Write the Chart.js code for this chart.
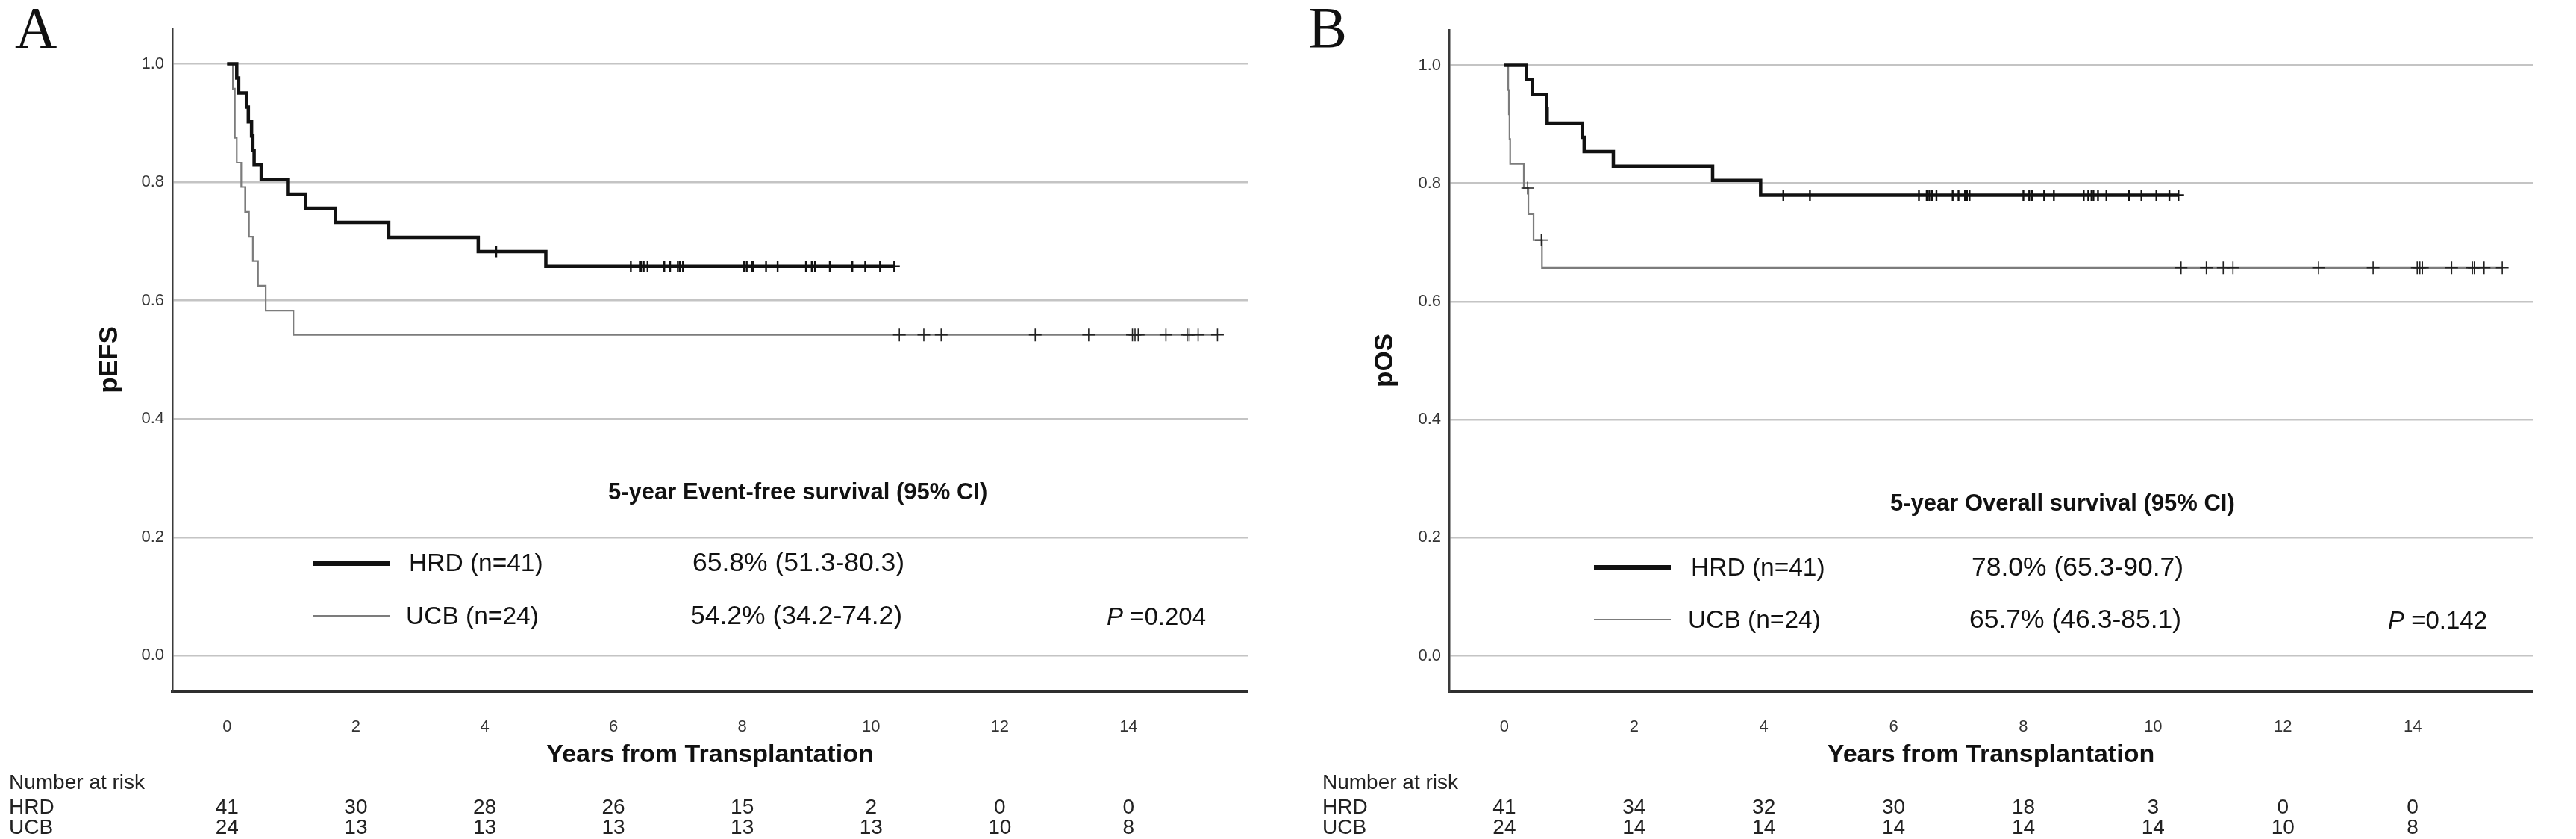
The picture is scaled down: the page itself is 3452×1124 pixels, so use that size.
<!DOCTYPE html>
<html>
<head>
<meta charset="utf-8">
<script src="https://cdn.jsdelivr.net/npm/chart.js@4.4.1/dist/chart.umd.min.js"></script>
<style>
  body { margin: 0; background: #fff; }
  #page { position: relative; width: 3452px; height: 1124px; overflow: hidden;
          font-family: "Liberation Sans", Arial, sans-serif; color: #111; }
  .panel { position: absolute; top: 0; width: 1726px; height: 1124px; }
  .panel canvas { position: absolute; left: 0; top: 0; }
  .txt { position: absolute; white-space: nowrap; line-height: 1; transform: translateY(-50%); }
  .mid { transform: translate(-50%, -50%); }
  .letter { position: absolute; font-family: "Liberation Serif", "Times New Roman", serif;
            font-size: 78px; line-height: 1; }
  .key { position: absolute; }
</style>
</head>
<body>
<div id="page">
  <div class="panel" id="panelA" style="left:0"></div>
  <div class="panel" id="panelB" style="left:1726px"></div>
</div>
<script>
// axis ticks
const timeTicks = [0, 2, 4, 6, 8, 10, 12, 14];
const survTicks = [0, 0.2, 0.4, 0.6, 0.8, 1.0];

// A: event-free survival (steps)
const efsHrdTimes = [0, 0.15, 0.18, 0.30, 0.33, 0.38, 0.40, 0.42, 0.53, 0.94, 1.22, 1.68, 2.51, 3.90, 4.95, 10.36];
const efsHrdSurv  = [1.0, 0.976, 0.951, 0.927, 0.902, 0.878, 0.854, 0.829, 0.805, 0.780, 0.756, 0.732, 0.707, 0.683, 0.658, 0.658];
const efsHrdCensor = [4.18, 6.27, 6.41, 6.43, 6.47, 6.53, 6.79, 6.88, 7.00, 7.03, 7.08, 8.03, 8.07, 8.15, 8.17,
                      8.37, 8.55, 8.99, 9.08, 9.13, 9.36, 9.71, 9.91, 10.14, 10.36];
const efsUcbTimes = [0, 0.09, 0.12, 0.15, 0.22, 0.28, 0.34, 0.40, 0.48, 0.60, 1.03, 15.38];
const efsUcbSurv  = [1.0, 0.958, 0.875, 0.833, 0.792, 0.750, 0.708, 0.667, 0.625, 0.583, 0.542, 0.542];
const efsUcbCensor = [10.44, 10.82, 11.09, 12.55, 13.38, 14.06, 14.10, 14.15, 14.58, 14.91, 14.94, 15.08, 15.38];
const efsRiskHrd = [41, 30, 28, 26, 15, 2, 0, 0];
const efsRiskUcb = [24, 13, 13, 13, 13, 13, 10, 8];

// B: overall survival
const osHrdTimes = [0, 0.34, 0.43, 0.65, 0.66, 1.20, 1.23, 1.68, 3.21, 3.95, 10.39];
const osHrdSurv  = [1.0, 0.976, 0.951, 0.927, 0.902, 0.878, 0.854, 0.829, 0.805, 0.780, 0.780];
const osHrdCensor = [4.30, 4.71, 6.39, 6.51, 6.55, 6.59, 6.66, 6.91, 7.00, 7.10, 7.13, 7.17, 8.00, 8.09, 8.13,
                     8.32, 8.47, 8.93, 9.00, 9.05, 9.08, 9.15, 9.28, 9.63, 9.82, 10.05, 10.25, 10.39];
const osUcbTimes = [0, 0.06, 0.07, 0.08, 0.09, 0.30, 0.37, 0.45, 0.58, 15.38];
const osUcbSurv  = [1.0, 0.958, 0.917, 0.875, 0.833, 0.792, 0.748, 0.704, 0.657, 0.657];
const osUcbCensor = [0.36, 0.57, 10.43, 10.82, 11.08, 11.23, 12.55, 13.39, 14.07, 14.11, 14.15, 14.60,
                     14.92, 14.95, 15.10, 15.38];
const osRiskHrd = [41, 34, 32, 30, 18, 3, 0, 0];
const osRiskUcb = [24, 14, 14, 14, 14, 14, 10, 8];

const groups = ['HRD', 'UCB'];

function steps(times, surv) {
  return times.map((t, i) => ({ x: t, y: surv[i] }));
}
// censor marks sit on the curve
function marks(censor, times, surv) {
  return censor.map(t => {
    let s = surv[0];
    times.forEach((tt, i) => { if (tt <= t) s = surv[i]; });
    return { x: t, y: s };
  });
}

function add(parent, cls, html, css) {
  const d = document.createElement('div');
  d.className = cls;
  d.innerHTML = html;
  Object.assign(d.style, css);
  parent.appendChild(d);
  return d;
}

function makePanel(p) {
  const el = document.getElementById(p.id);
  const canvas = document.createElement('canvas');
  canvas.width = 1726; canvas.height = 1124;
  canvas.style.width = '1726px'; canvas.style.height = '1124px';
  el.appendChild(canvas);

  const font = 'Liberation Sans';
  const chart = new Chart(canvas, {
    type: 'scatter',
    data: {
      datasets: [
        { data: steps(p.hrd[0], p.hrd[1]), showLine: true, stepped: true, borderColor: '#111',
          borderWidth: 4.5, borderJoinStyle: 'miter', pointRadius: 0, order: 3 },
        { data: steps(p.ucb[0], p.ucb[1]), showLine: true, stepped: true, borderColor: '#7c7c7c',
          borderWidth: 2.2, borderJoinStyle: 'miter', pointRadius: 0, order: 4 },
        { data: marks(p.hrd[2], p.hrd[0], p.hrd[1]), pointStyle: 'cross', pointRadius: 7.5,
          pointBorderWidth: 2.4, pointBorderColor: '#111', order: 1 },
        { data: marks(p.ucb[2], p.ucb[0], p.ucb[1]), pointStyle: 'cross', pointRadius: 8.5,
          pointBorderWidth: 1.6, pointBorderColor: '#222', order: 2 }
      ]
    },
    options: {
      responsive: false,
      animation: false,
      events: [],
      layout: { padding: { left: 0, top: p.area.top, right: 1726 - p.area.right, bottom: 0 } },
      plugins: { legend: { display: false }, tooltip: { enabled: false } },
      scales: {
        x: {
          type: 'linear', min: -0.85, max: 15.85,
          afterBuildTicks: s => { s.ticks = timeTicks.map(v => ({ value: v })); },
          afterFit: s => { s.height = 1124 - p.area.bottom; },
          grid: { display: false, drawTicks: false },
          border: { display: true, color: '#2e2e2e', width: 4 },
          ticks: { padding: 35, color: '#333', font: { family: font, size: 22 },
                   callback: v => String(v) },
          title: { display: true, text: 'Years from Transplantation', color: '#111',
                   font: { family: font, size: 34, weight: 'bold' },
                   padding: { top: 0, bottom: 92 } }
        },
        y: {
          type: 'linear', min: -0.06, max: 1.06,
          afterBuildTicks: s => { s.ticks = survTicks.map(v => ({ value: v })); },
          afterFit: s => { s.width = p.area.left; },
          grid: { color: '#c4c4c4', lineWidth: 2.5, drawTicks: false },
          border: { display: true, color: '#3a3a3a', width: 2.5 },
          ticks: { padding: 11, color: '#333', font: { family: font, size: 22 },
                   callback: v => v.toFixed(1) },
          title: { display: true, text: p.yTitle, color: '#111',
                   font: { family: font, size: 35, weight: 'bold' },
                   padding: { top: p.yTitleX - 21, bottom: 0 } }
        }
      }
    }
  });

  // panel letter
  add(el, 'letter', p.letter, { left: p.letterX + 'px', top: '-2px' });

  // annotation block inside the plot
  const a = p.note;
  add(el, 'txt', a.title, { left: a.titleX + 'px', top: a.titleY + 'px', fontSize: '31px', fontWeight: 'bold' });
  add(el, 'key', '', { left: a.keyX + 'px', top: (a.row1 - 3.5) + 'px', width: '103px', height: '7px', background: '#111' });
  add(el, 'key', '', { left: a.keyX + 'px', top: (a.row2 - 1.2) + 'px', width: '103px', height: '2.5px', background: '#7c7c7c' });
  add(el, 'txt', groups[0] + ' (n=' + p.riskHrd[0] + ')', { left: a.labX + 'px', top: a.row1 + 'px', fontSize: '33.5px' });
  add(el, 'txt', groups[1] + ' (n=' + p.riskUcb[0] + ')', { left: (a.labX - 4) + 'px', top: a.row2 + 'px', fontSize: '33.5px' });
  add(el, 'txt', p.est[0], { left: a.estX + 'px', top: a.row1 + 'px', fontSize: '35.5px' });
  add(el, 'txt', p.est[1], { left: (a.estX - 3) + 'px', top: a.row2 + 'px', fontSize: '35.5px' });
  add(el, 'txt', '<i>P</i> =' + p.pValue, { left: a.pX + 'px', top: a.row2 + 'px', fontSize: '33px' });

  // number at risk table, columns follow the x scale
  const xs = chart.scales.x;
  const rs = { fontSize: '28px', color: '#222' };
  add(el, 'txt', 'Number at risk', Object.assign({ left: p.riskX + 'px', top: '1048px' }, rs));
  add(el, 'txt', groups[0], Object.assign({ left: p.riskX + 'px', top: '1081px' }, rs));
  add(el, 'txt', groups[1], Object.assign({ left: p.riskX + 'px', top: '1108px' }, rs));
  timeTicks.forEach((t, i) => {
    const x = xs.getPixelForValue(t);
    add(el, 'txt mid', String(p.riskHrd[i]), Object.assign({ left: x + 'px', top: '1081px' }, rs));
    add(el, 'txt mid', String(p.riskUcb[i]), Object.assign({ left: x + 'px', top: '1108px' }, rs));
  });
}

makePanel({
  id: 'panelA', letter: 'A', letterX: 20, yTitle: 'pEFS', yTitleX: 147,
  area: { left: 231, right: 1672, top: 38, bottom: 926 },
  hrd: [efsHrdTimes, efsHrdSurv, efsHrdCensor],
  ucb: [efsUcbTimes, efsUcbSurv, efsUcbCensor],
  riskHrd: efsRiskHrd, riskUcb: efsRiskUcb, riskX: 12,
  est: ['65.8% (51.3-80.3)', '54.2% (34.2-74.2)'], pValue: '0.204',
  note: { title: '5-year Event-free survival (95% CI)', titleX: 815, titleY: 658,
          keyX: 419, labX: 548, estX: 928, pX: 1483, row1: 754, row2: 825 }
});

makePanel({
  id: 'panelB', letter: 'B', letterX: 27, yTitle: 'pOS', yTitleX: 130,
  area: { left: 216, right: 1668, top: 40, bottom: 926 },
  hrd: [osHrdTimes, osHrdSurv, osHrdCensor],
  ucb: [osUcbTimes, osUcbSurv, osUcbCensor],
  riskHrd: osRiskHrd, riskUcb: osRiskUcb, riskX: 46,
  est: ['78.0% (65.3-90.7)', '65.7% (46.3-85.1)'], pValue: '0.142',
  note: { title: '5-year Overall survival (95% CI)', titleX: 807, titleY: 673,
          keyX: 410, labX: 540, estX: 916, pX: 1474, row1: 760, row2: 830 }
});
</script>
</body>
</html>
